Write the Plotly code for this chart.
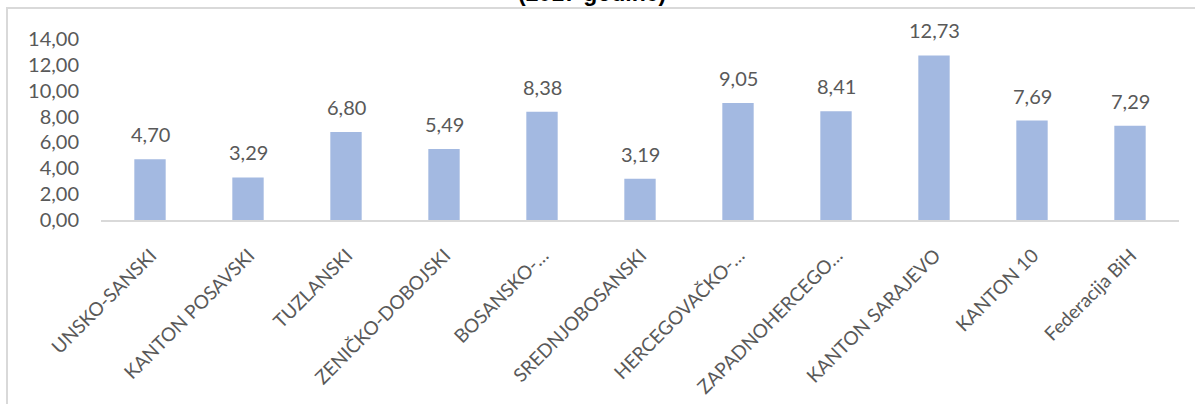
import plotly.graph_objects as go

categories = ["UNSKO-SANSKI", "KANTON POSAVSKI", "TUZLANSKI", "ZENIČKO-DOBOJSKI",
              "BOSANSKO-…", "SREDNJOBOSANSKI", "HERCEGOVAČKO-…", "ZAPADNOHERCEGO…",
              "KANTON SARAJEVO", "KANTON 10", "Federacija BiH"]
values = [4.70, 3.29, 6.80, 5.49, 8.38, 3.19, 9.05, 8.41, 12.73, 7.69, 7.29]
y_ticks = [0, 2, 4, 6, 8, 10, 12, 14]
title_text = "(2017 godine)"

def fmt(v):
    return f"{v:.2f}".replace(".", ",")

W, H = 1195, 404
L, R, T, B = 101, 16, 39, 184
pw, ph = W - L - R, H - T - B

def px(x):
    return (x - L) / pw

def py(y):
    return (H - B - y) / ph

FONT = "Lato"
GREY = "#595959"

fig = go.Figure(go.Bar(
    x=categories, y=values,
    marker=dict(color="#A3B9E1", line=dict(width=0)),
    hoverinfo="x+y",
))

label_annots = [dict(x=c, y=v, xref="x", yref="y", text=fmt(v), showarrow=False,
                     xanchor="center", yanchor="bottom", yshift=11,
                     font=dict(family=FONT, size=20, color=GREY))
                for c, v in zip(categories, values)]

fig.update_layout(
    width=W, height=H,
    margin=dict(l=L, r=R, t=T, b=B, autoexpand=False),
    paper_bgcolor="white", plot_bgcolor="white",
    bargap=0.68, showlegend=False,
    xaxis=dict(showline=True, linecolor="#D9D9D9", linewidth=2, ticks="",
               tickangle=-45, tickfont=dict(family=FONT, size=19, color=GREY),
               ticklabelstandoff=15, ticklabelshift=1, showgrid=False),
    yaxis=dict(range=[0, 14], tickvals=y_ticks, ticktext=[fmt(v) for v in y_ticks],
               showgrid=False, zeroline=False, showline=False, ticks="",
               tickfont=dict(family=FONT, size=20, color=GREY),
               ticklabelstandoff=21),
    shapes=[dict(type="rect", xref="paper", yref="paper",
                 x0=px(7), x1=px(1210), y0=py(420), y1=py(8),
                 line=dict(color="#D9D9D9", width=2), layer="below")],
    annotations=label_annots + [dict(text="<b>" + title_text + "</b>", xref="paper", yref="paper",
                      x=px(592), y=py(8), xanchor="center", yanchor="bottom",
                      showarrow=False,
                      font=dict(family="Liberation Sans", size=23, color="black"))],
)

fig.write_html("out.html", config={"displayModeBar": False},
               post_script="document.body.style.margin='0';")
